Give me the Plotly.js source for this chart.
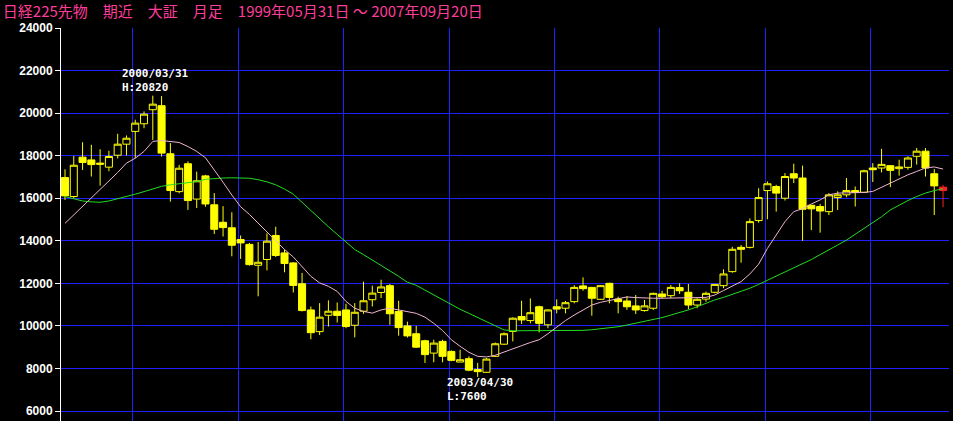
<!DOCTYPE html>
<html>
<head>
<meta charset="utf-8">
<script src="https://cdn.plot.ly/plotly-3.0.1.min.js"></script>
<style>html,body{margin:0;padding:0;background:#000;}#chart{width:953px;height:421px;}</style>
</head>
<body>
<div id="chart"></div>
<script>
// Monthly bars, 1999-05 .. 2007-09
const months = [];
for (let y = 1999, m = 5; y < 2007 || (y === 2007 && m <= 9); m++) {
  if (m > 12) { m = 1; y++; }
  months.push(y + '-' + String(m).padStart(2, '0'));
}

const openP = [16970,16080,17930,17800,17650,17460,18020,18540,19140,19500,
  20160,20350,18090,16310,17620,15960,17050,15690,14870,14610,
  14060,13830,12850,13120,14250,13430,12960,11980,10750,9730,
  10500,10690,10750,10030,10690,11230,11570,11890,10680,10000,
  9630,9300,8720,9270,8800,8300,8460,7950,7820,8570,
  9140,9740,10440,10250,10900,10050,10900,10830,11140,11880,
  11810,11250,12000,11260,11170,10940,10720,10830,11500,11420,
  11800,11580,10980,11260,11580,11890,12550,13690,13690,14950,
  16360,16550,16000,17150,16950,15670,15610,15370,16030,16160,
  16360,16280,17420,17420,17530,17390,17450,17970,18210,17150,
  16520];
const highP = [17360,17990,18630,18510,18300,18230,19030,18950,19690,20080,
  20820,20800,18590,17570,17730,17250,17100,16240,15630,15340,
  14250,13900,13940,14350,14660,13590,12990,12490,10910,11070,
  11200,11100,11040,11070,12080,11890,12170,11970,11180,10200,
  10000,9350,9350,9350,8850,8880,8570,8260,8490,9220,
  9690,10400,11180,11290,10950,10780,11250,11170,11910,12280,
  11830,11920,12030,11370,11400,11450,11220,11560,11650,11920,
  12000,11970,11300,11610,11950,12660,13720,13800,15050,16470,
  16790,16630,17180,17620,17530,15690,15730,16240,16320,16950,
  16550,17340,17650,18320,17560,17810,17970,18360,18360,17370,
  16630];
const lowP = [15920,16000,17330,17020,16590,17270,17870,18010,17880,19290,
  18740,17960,15840,16230,15450,15540,15600,14320,14200,13270,
  13150,12830,11390,12610,13240,12520,11570,10680,9370,9570,
  9970,10160,9890,9460,10570,10910,11310,10050,9540,9450,
  8960,8260,8290,8290,8340,8300,7870,7600,7790,8540,
  9110,9270,10090,10120,9690,9890,10590,10590,11060,11650,
  10480,11220,11060,10590,10750,10560,10670,10750,11300,11300,
  11500,10780,10830,11140,11530,11770,12500,12970,13640,14850,
  15010,15370,15890,16710,14000,14500,14380,15210,15450,16050,
  15610,16240,16760,17210,16520,17060,17340,17580,17020,15210,
  15580];
const closeP = [16110,17550,17680,17580,17600,17960,18540,18820,19530,19950,
  20420,18120,16360,17410,15890,16820,15730,14540,14620,13790,
  13900,12880,12990,13980,13310,12930,11900,10720,9680,10410,
  10690,10490,9970,10640,11180,11540,11830,10570,9920,9530,
  9000,8650,9190,8570,8380,8410,7920,7850,8440,9160,
  9630,10360,10280,10620,10120,10750,10790,11090,11810,11750,
  11300,11890,11340,11140,10900,10750,10940,11530,11370,11810,
  11650,10980,11250,11530,11950,12440,13600,13600,14900,16030,
  16680,16240,17020,16950,15480,15500,15400,16160,16160,16360,
  16270,17290,17340,17590,17310,17470,17890,18210,17420,16580,
  16360];

// Short moving average (pink) and long moving average (green)
const maShort = [14820,15220,15610,16000,16390,16830,17210,17650,17880,18200,
  18670,18710,18670,18620,18430,18200,17900,17350,16750,16150,
  15600,15240,14820,14380,13980,13590,13240,12800,12330,12020,
  11860,11620,11150,10830,10680,10600,10750,10830,10750,10700,
  10590,10410,10120,9780,9350,9040,8760,8570,8540,8620,
  8760,8910,9070,9220,9350,9630,9940,10250,10510,10750,
  10980,11110,11190,11300,11360,11330,11300,11300,11300,11300,
  11300,11310,11330,11340,11450,11660,11880,12080,12440,12900,
  13640,14270,14900,15370,15510,15730,15920,16160,16240,16250,
  16250,16270,16320,16520,16710,16900,17100,17260,17420,17470,
  17370];
const maLong = [16080,15970,15870,15830,15810,15870,15970,16080,16190,16310,
  16450,16560,16630,16670,16720,16780,16890,16930,16950,16960,
  16960,16940,16870,16770,16630,16430,16190,15800,15400,15010,
  14660,14300,13940,13590,13350,13100,12850,12600,12330,12050,
  11910,11680,11450,11210,10980,10780,10590,10400,10200,10000,
  9810,9770,9770,9770,9770,9770,9780,9790,9800,9790,
  9820,9860,9900,9960,10040,10120,10200,10280,10390,10510,
  10620,10750,10900,11060,11220,11340,11480,11610,11770,11950,
  12140,12350,12550,12720,12900,13120,13350,13560,13800,14030,
  14300,14550,14820,15130,15450,15690,15890,16080,16240,16360,
  16440];

const yTicks = [6000,8000,10000,12000,14000,16000,18000,20000,22000,24000];
const titleText = '日経225先物　期近　大証　月足　1999年05月31日 ～ 2007年09月20日';
const highLabel = ['2000/03/31', 'H:20820'];
const lowLabel = ['2003/04/30', 'L:7600'];

const idx = months.map((m, i) => i);
const last = months.length - 1;
const yearStarts = months.map((m, i) => m.endsWith('-01') ? i - 0.26 : null).filter(v => v !== null);

const YEL = '#ffff00';
const traces = [
  {
    type: 'candlestick',
    x: idx.slice(0, last), open: openP.slice(0, last), high: highP.slice(0, last),
    low: lowP.slice(0, last), close: closeP.slice(0, last),
    increasing: {line: {color: YEL, width: 1}, fillcolor: '#000000'},
    decreasing: {line: {color: YEL, width: 1}, fillcolor: YEL},
    whiskerwidth: 0, hoverinfo: 'skip'
  },
  {
    type: 'candlestick',
    x: [idx[last]], open: [openP[last]], high: [highP[last]], low: [lowP[last]], close: [closeP[last]],
    increasing: {line: {color: '#ff2020', width: 1}, fillcolor: '#ff2020'},
    decreasing: {line: {color: '#ff2020', width: 1}, fillcolor: '#ff2020'},
    whiskerwidth: 0, hoverinfo: 'skip'
  },
  {type: 'scatter', mode: 'lines', x: idx, y: maLong, line: {color: '#22dd22', width: 1}, hoverinfo: 'skip'},
  {type: 'scatter', mode: 'lines', x: idx, y: maShort, line: {color: '#f0b4d2', width: 1}, hoverinfo: 'skip'}
];

const hiI = highP.indexOf(Math.max(...highP));
const loI = lowP.indexOf(Math.min(...lowP));
const annFont = {family: 'DejaVu Sans Mono', size: 11, color: '#ffffff', weight: 'bold'};
const annotations = [
  {x: hiI, y: highP[hiI], text: highLabel.join('<br>'), showarrow: false, xanchor: 'left', yanchor: 'bottom', align: 'left',
   xshift: -33, yshift: 0, font: annFont},
  {x: loI, y: lowP[loI], text: lowLabel.join('<br>'), showarrow: false, xanchor: 'left', yanchor: 'top', align: 'left',
   xshift: -33, yshift: 3, font: annFont}
];

const layout = {
  width: 953, height: 421,
  margin: {l: 61, r: 4, t: 28, b: 0, pad: 0},
  paper_bgcolor: '#000000', plot_bgcolor: '#000000',
  showlegend: false, hovermode: false,
  boxgap: 0.2, boxgroupgap: 0,
  title: {text: titleText, x: 0.003, xref: 'container', xanchor: 'left', y: 0.9715, yref: 'container', yanchor: 'middle',
    font: {family: 'Noto Sans CJK JP', size: 15, color: '#ff3d9a'}},
  xaxis: {
    range: [-0.456, 100.68], tickvals: yearStarts, showticklabels: false, ticks: '',
    showgrid: true, gridcolor: '#2020ff', gridwidth: 1, zeroline: false, showline: false,
    rangeslider: {visible: false}, fixedrange: true
  },
  yaxis: {
    range: [5530, 24000], tickvals: yTicks, ticktext: yTicks.map(String),
    showgrid: true, gridcolor: '#2020ff', gridwidth: 1, zeroline: false,
    showline: true, linecolor: '#ffffff', linewidth: 1,
    ticks: 'outside', ticklen: 5, tickcolor: '#ffffff', tickwidth: 1,
    tickfont: {family: 'Liberation Sans', size: 12, color: '#ffffff', weight: 'bold'},
    fixedrange: true
  },
  annotations: annotations
};

Plotly.newPlot('chart', traces, layout, {staticPlot: true, displayModeBar: false});
</script>
</body>
</html>
